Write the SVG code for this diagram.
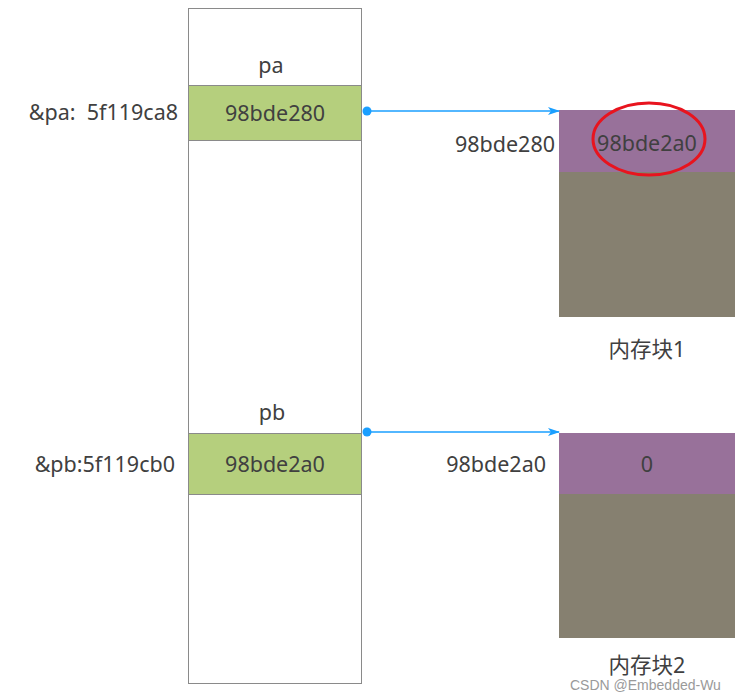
<svg xmlns="http://www.w3.org/2000/svg" width="752" height="699" viewBox="0 0 752 699">
<style>
text{font-family:"Noto Sans","Noto Sans CJK SC",sans-serif;font-size:21.5px;fill:#404040;white-space:pre}
.c{text-anchor:middle}
.r{text-anchor:end}
.cell{fill:#b5cf7d;stroke:#8a8a8a;stroke-width:1}
.top{fill:#98719a}
.body{fill:#868070}
.conn{stroke:#1a9fff;stroke-width:1.5;fill:none}
</style>
<defs>
<marker id="ah" markerWidth="12" markerHeight="8" refX="11" refY="4" orient="auto" markerUnits="userSpaceOnUse">
<path d="M0,0 L12,4 L0,8 L3,4 Z" fill="#1a9fff"/>
</marker>
</defs>
<rect width="752" height="699" fill="#fff"/>
<g id="stack">
<rect x="188.5" y="8.5" width="173" height="675" fill="#fff" stroke="#8a8a8a"/>
</g>
<g id="pa">
<text class="c" x="271" y="73">pa</text>
<rect class="cell" x="188.5" y="85.5" width="173" height="55"/>
<text class="c" x="275" y="121">98bde280</text>
<text class="r" x="178" y="120" xml:space="preserve">&amp;pa:  5f119ca8</text>
</g>
<g id="pb">
<text class="c" x="272" y="420">pb</text>
<rect class="cell" x="188.5" y="433.5" width="173" height="61"/>
<text class="c" x="275" y="472">98bde2a0</text>
<text class="r" x="175" y="472">&amp;pb:5f119cb0</text>
</g>
<g id="block1">
<rect class="body" x="559" y="110" width="176" height="207"/>
<rect class="top" x="559" y="110" width="176" height="62"/>
<text class="c" x="647" y="151">98bde2a0</text>
<ellipse cx="649" cy="139" rx="56" ry="36" fill="none" stroke="#e8141e" stroke-width="3"/>
<text class="r" x="555" y="152">98bde280</text>
<text class="c" x="647" y="357">内存块1</text>
</g>
<g id="block2">
<rect class="body" x="559" y="433" width="176" height="205"/>
<rect class="top" x="559" y="433" width="176" height="61"/>
<text class="c" x="647" y="472">0</text>
<text class="r" x="546" y="472">98bde2a0</text>
<text class="c" x="647" y="673">内存块2</text>
</g>
<g id="connectors">
<circle cx="367" cy="111" r="4.5" fill="#1a9fff"/>
<line class="conn" x1="367" y1="111" x2="559" y2="111" marker-end="url(#ah)"/>
<circle cx="367" cy="432" r="4.5" fill="#1a9fff"/>
<line class="conn" x1="367" y1="432" x2="559" y2="432" marker-end="url(#ah)"/>
</g>
<text x="570" y="690" style="font-family:'Liberation Sans',sans-serif;font-size:14px;fill:#9a9a9a">CSDN @Embedded-Wu</text>
</svg>
